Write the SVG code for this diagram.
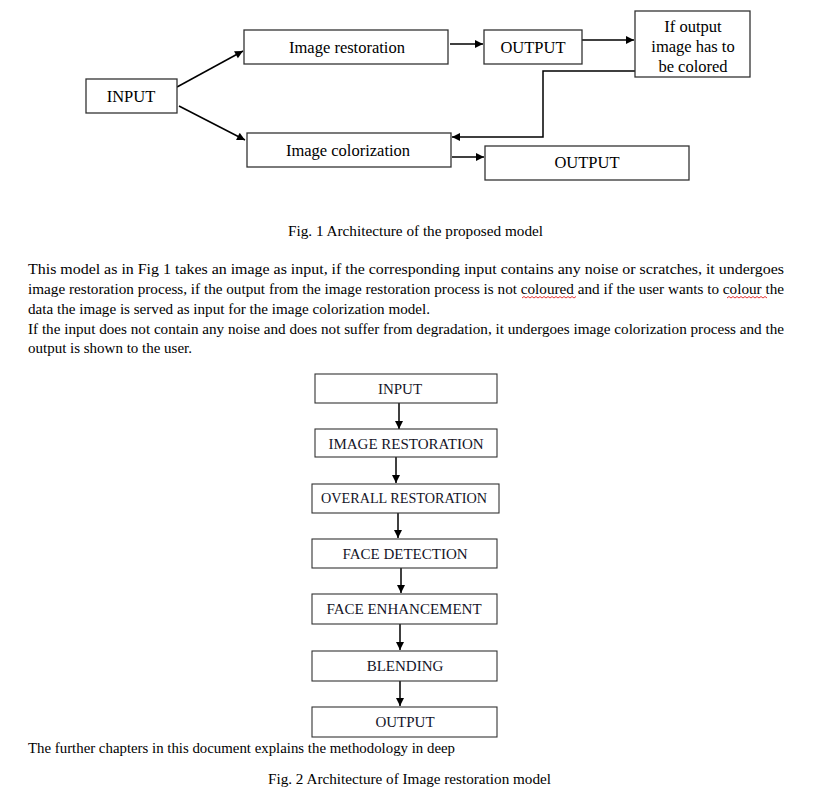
<svg xmlns="http://www.w3.org/2000/svg" width="813" height="791" viewBox="0 0 813 791">
<defs>
<style>
.box{fill:#fff;stroke:#333;stroke-width:1.3}
.fbox{fill:#fff;stroke:#333;stroke-width:1.1}
.t{font-family:"Liberation Serif","Times New Roman",serif;font-size:16.5px;fill:#000;text-anchor:middle}
.ft{font-family:"Liberation Serif","Times New Roman",serif;font-size:15px;fill:#141428;text-anchor:middle}
.p{font-family:"Liberation Serif","Times New Roman",serif;font-size:15px;fill:#000}
.c{fill:none;stroke:#000;stroke-width:1.5}
.sq{fill:none;stroke:#e02020;stroke-width:0.9}
</style>
<marker id="ah" viewBox="0 0 10 10" refX="10" refY="5" markerWidth="9" markerHeight="8" orient="auto" markerUnits="userSpaceOnUse">
<path d="M0,0 L10,5 L0,10 z" fill="#000"/>
</marker>
</defs>

<g id="connectors">
<line class="c" x1="177" y1="87" x2="243" y2="51" marker-end="url(#ah)"/>
<line class="c" x1="179" y1="106" x2="245" y2="140" marker-end="url(#ah)"/>
<line class="c" x1="450" y1="44" x2="483" y2="44" marker-end="url(#ah)"/>
<line class="c" x1="582" y1="40" x2="634" y2="40" marker-end="url(#ah)"/>
<polyline class="c" points="635,71 543,71 543,137 452,137" marker-end="url(#ah)"/>
<line class="c" x1="452" y1="157" x2="484" y2="157" marker-end="url(#ah)"/>

<line class="c" x1="399" y1="403" x2="399" y2="429" marker-end="url(#ah)"/>
<line class="c" x1="396" y1="457" x2="396" y2="483" marker-end="url(#ah)"/>
<line class="c" x1="398" y1="513" x2="398" y2="538" marker-end="url(#ah)"/>
<line class="c" x1="401" y1="568" x2="401" y2="593" marker-end="url(#ah)"/>
<line class="c" x1="400" y1="624" x2="400" y2="650" marker-end="url(#ah)"/>
<line class="c" x1="400" y1="681" x2="400" y2="706" marker-end="url(#ah)"/>
</g>

<g id="n-input"><rect class="box" x="86" y="79" width="91" height="34"/><text class="t" x="131" y="102">INPUT</text></g>
<g id="n-restoration"><rect class="box" x="244" y="30" width="204" height="34"/><text class="t" x="347" y="53">Image restoration</text></g>
<g id="n-colorization"><rect class="box" x="247" y="133" width="204" height="34"/><text class="t" x="348" y="156">Image colorization</text></g>
<g id="n-output1"><rect class="box" x="484" y="30" width="98" height="34"/><text class="t" x="533" y="53">OUTPUT</text></g>
<g id="n-ifcolored"><rect class="box" x="635" y="11" width="115" height="66"/>
<text class="t" x="693" y="32">If output</text><text class="t" x="693" y="52">image has to</text><text class="t" x="693" y="72">be colored</text></g>
<g id="n-output2"><rect class="box" x="485" y="146" width="204" height="34"/><text class="t" x="587" y="168">OUTPUT</text></g>

<text class="p" x="288" y="236" textLength="255" lengthAdjust="spacingAndGlyphs">Fig. 1 Architecture of the proposed model</text>

<text class="p" x="28" y="274" textLength="756" lengthAdjust="spacingAndGlyphs">This model as in Fig 1 takes an image as input, if the corresponding input contains any noise or scratches, it undergoes</text>
<text class="p" x="28" y="294" textLength="756" lengthAdjust="spacingAndGlyphs">image restoration process, if the output from the image restoration process is not coloured and if the user wants to colour the</text>
<text class="p" x="28" y="314" textLength="402" lengthAdjust="spacingAndGlyphs">data the image is served as input for the image colorization model.</text>
<text class="p" x="28" y="334" textLength="756" lengthAdjust="spacingAndGlyphs">If the input does not contain any noise and does not suffer from degradation, it undergoes image colorization process and the</text>
<text class="p" x="28" y="353" textLength="164" lengthAdjust="spacingAndGlyphs">output is shown to the user.</text>
<path class="sq" d="M522,298 l2,-1.5 l2,1.5 l2,-1.5 l2,1.5 l2,-1.5 l2,1.5 l2,-1.5 l2,1.5 l2,-1.5 l2,1.5 l2,-1.5 l2,1.5 l2,-1.5 l2,1.5 l2,-1.5 l2,1.5 l2,-1.5 l2,1.5 l2,-1.5 l2,1.5 l2,-1.5 l2,1.5 l2,-1.5 l2,1.5 l2,-1.5 l2,1.5 l2,-1.5"/>
<path class="sq" d="M727,298 l2,-1.5 l2,1.5 l2,-1.5 l2,1.5 l2,-1.5 l2,1.5 l2,-1.5 l2,1.5 l2,-1.5 l2,1.5 l2,-1.5 l2,1.5 l2,-1.5 l2,1.5 l2,-1.5 l2,1.5 l2,-1.5 l2,1.5 l2,-1.5 l2,1.5"/>

<g id="f-input"><rect class="fbox" x="315" y="374" width="182" height="29"/><text class="ft" x="400" y="394">INPUT</text></g>
<g id="f-imgrest"><rect class="fbox" x="315" y="429" width="182" height="28"/><text class="ft" x="406" y="449">IMAGE RESTORATION</text></g>
<g id="f-overall"><rect class="fbox" x="312" y="484" width="187" height="29"/><text class="ft" x="404" y="503" textLength="166" lengthAdjust="spacingAndGlyphs">OVERALL RESTORATION</text></g>
<g id="f-facedet"><rect class="fbox" x="312" y="539" width="185" height="29"/><text class="ft" x="405" y="559">FACE DETECTION</text></g>
<g id="f-faceenh"><rect class="fbox" x="312" y="594" width="185" height="30"/><text class="ft" x="404" y="614">FACE ENHANCEMENT</text></g>
<g id="f-blending"><rect class="fbox" x="312" y="651" width="185" height="30"/><text class="ft" x="405" y="671">BLENDING</text></g>
<g id="f-output"><rect class="fbox" x="312" y="707" width="185" height="30"/><text class="ft" x="405" y="727">OUTPUT</text></g>

<text class="p" x="28" y="753" textLength="427" lengthAdjust="spacingAndGlyphs">The further chapters in this document explains the methodology in deep</text>
<text class="p" x="268" y="784" textLength="283" lengthAdjust="spacingAndGlyphs">Fig. 2 Architecture of Image restoration model</text>
</svg>
